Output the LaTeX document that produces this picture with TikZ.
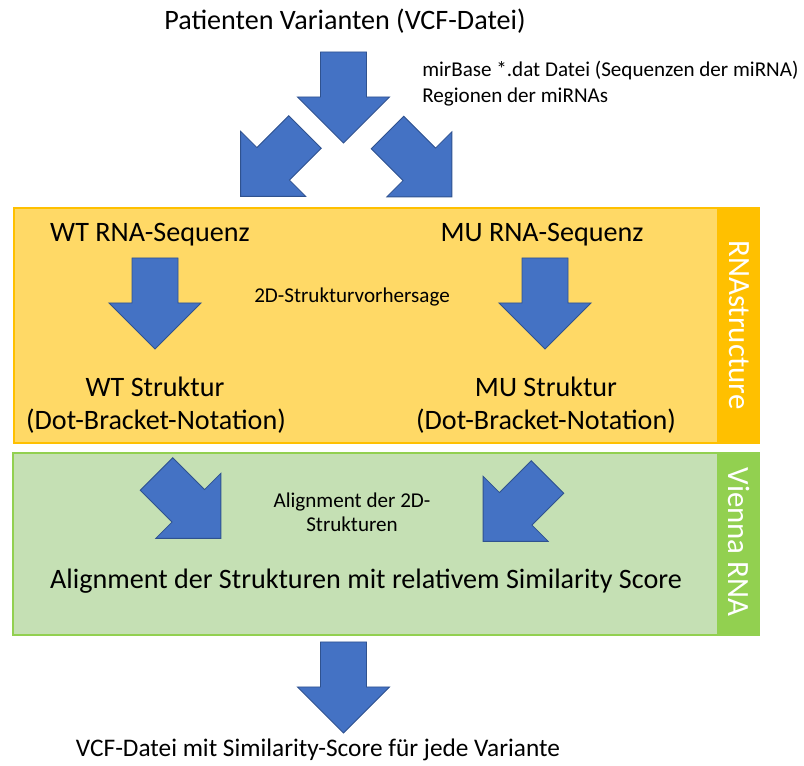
\documentclass[tikz,border=0pt]{standalone}
\usepackage{fontspec}
\setmainfont{Carlito}
\usepackage{xcolor}
\usepackage{tikz}
\usetikzlibrary{positioning}

\definecolor{arrowblue}{HTML}{4472C4}
\definecolor{arrowedge}{HTML}{2F528F}
\definecolor{goldlight}{HTML}{FFD966}
\definecolor{goldband}{HTML}{FFC000}
\definecolor{greenlight}{HTML}{C5E0B4}
\definecolor{greenband}{HTML}{92D050}

\begin{document}
\begin{tikzpicture}[
    x=0.025cm, y=-0.025cm,
    bigtext/.style={font=\fontsize{20}{24.5}\selectfont, inner sep=0pt, anchor=base},
    smalltext/.style={font=\fontsize{15}{17}\selectfont, inner sep=0pt, anchor=base},
    sidetext/.style={font=\fontsize{22}{26}\selectfont, text=white, rotate=-90, inner sep=0pt},
    pics/blockarrow/.style={code={
        \filldraw[fill=arrowblue, draw=arrowedge, line width=0.6pt]
            (-23,0) -- (23,0) -- (23,45) -- (46,45) -- (0,91) -- (-46,45) -- (-23,45) -- cycle;
    }},
]
\useasboundingbox (0,0) rectangle (804,766);

% tool panels
\filldraw[fill=goldlight, draw=goldband, line width=1.5pt] (14,208) rectangle (718,443);
\fill[goldband] (718,207) rectangle (760,444);
\node[sidetext] (rnastruct) at (739,325) {RNAstructure};

\filldraw[fill=greenlight, draw=greenband, line width=1.5pt] (13,453) rectangle (718,635);
\fill[greenband] (718,452) rectangle (760,636);
\node[sidetext] (vienna) at (739,542) {Vienna RNA};

% input
\node[bigtext] (vcfin) at (345,30) {Patienten Varianten (VCF-Datei)};
\node[smalltext, anchor=base west] (mirbase) at (422,77) {mirBase *.dat Datei (Sequenzen der miRNA)};
\node[smalltext, below=5pt of mirbase.south west, anchor=north west] (regions) {Regionen der miRNAs};

\pic at (343.5,52) {blockarrow};
\pic[rotate=-45] at (305,132) {blockarrow};
\pic[rotate=45] at (387.5,132.5) {blockarrow};

% structure prediction
\node[bigtext] (wtseq) at (150,242) {WT RNA-Sequenz};
\node[bigtext] (museq) at (542,242) {MU RNA-Sequenz};
\node[smalltext] (predict) at (352,303) {2D-Strukturvorhersage};
\pic at (155,258) {blockarrow};
\pic at (545,258) {blockarrow};

\node[bigtext] (wtstruct) at (155,397) {WT Struktur};
\node[bigtext] (wtdot) at (156,430) {(Dot-Bracket-Notation)};
\node[bigtext] (mustruct) at (546,397) {MU Struktur};
\node[bigtext] (mudot) at (546,430) {(Dot-Bracket-Notation)};

% alignment
\pic[rotate=45] at (156.5,474) {blockarrow};
\pic[rotate=-45] at (547.5,477) {blockarrow};
\node[smalltext] (align2d) at (352,508) {Alignment der 2D-};
\node[smalltext] (align2db) at (352,532) {Strukturen};
\node[bigtext] (alignres) at (366,589) {Alignment der Strukturen mit relativem Similarity Score};

% output
\pic at (343.5,642) {blockarrow};
\node[bigtext, font=\fontsize{18}{22}\selectfont] (vcfout) at (318,757) {VCF-Datei mit Similarity-Score für jede Variante};

\end{tikzpicture}
\end{document}
